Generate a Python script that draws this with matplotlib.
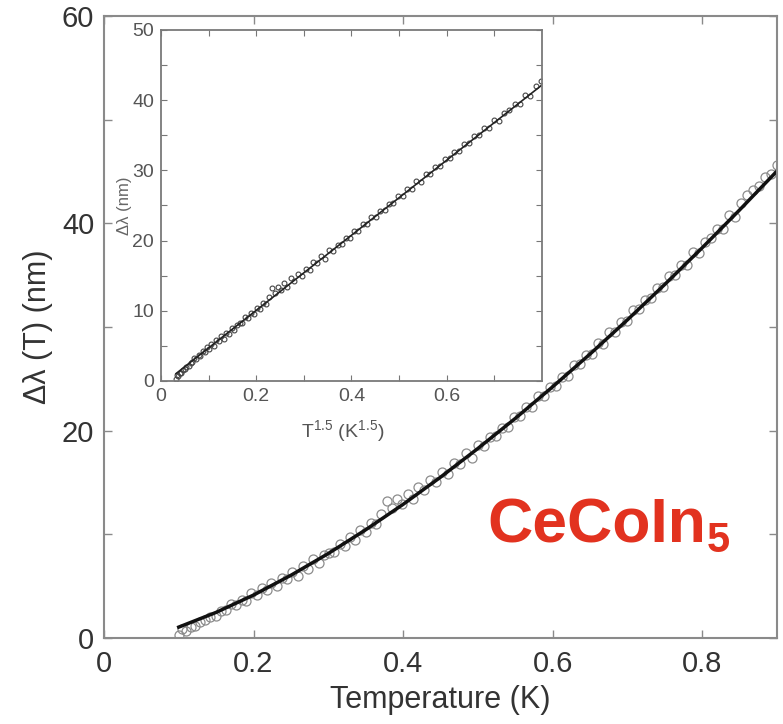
import numpy as np
import matplotlib
matplotlib.use("Agg")
from matplotlib import pyplot as plt
from matplotlib.ticker import MultipleLocator, FixedLocator

plt.rcParams['font.family'] = ['Liberation Sans', 'DejaVu Sans']
plt.rcParams['mathtext.default'] = 'regular'

# data: temperature (K) and delta lambda (nm)
temp = [0.100, 0.104, 0.110, 0.116, 0.122, 0.128, 0.135, 0.142, 0.150, 0.157,
        0.163, 0.170, 0.177, 0.184, 0.190, 0.197, 0.204, 0.211, 0.218, 0.224,
        0.231, 0.238, 0.245, 0.252, 0.259, 0.266, 0.273, 0.280, 0.287, 0.294,
        0.301, 0.308, 0.315, 0.322, 0.329, 0.336, 0.343, 0.350, 0.357, 0.364,
        0.371, 0.378, 0.385, 0.392, 0.399, 0.406, 0.413, 0.420, 0.428, 0.436,
        0.444, 0.452, 0.460, 0.468, 0.476, 0.484, 0.492, 0.500, 0.508, 0.516,
        0.524, 0.532, 0.540, 0.548, 0.556, 0.564, 0.572, 0.580, 0.588, 0.596,
        0.604, 0.612, 0.620, 0.628, 0.636, 0.644, 0.652, 0.660, 0.668, 0.676,
        0.684, 0.692, 0.700, 0.708, 0.716, 0.724, 0.732, 0.740, 0.748, 0.756,
        0.764, 0.772, 0.780, 0.788, 0.796, 0.804, 0.812, 0.820, 0.828, 0.836,
        0.844, 0.852, 0.860, 0.868, 0.876, 0.884, 0.892, 0.900]
dlam = [0.3, 0.9, 0.7, 1.1, 1.2, 1.5, 1.7, 2.0, 2.1, 2.6,
        2.7, 3.3, 3.2, 3.7, 3.6, 4.3, 4.1, 4.8, 4.6, 5.3,
        5.0, 5.8, 5.7, 6.4, 6.0, 6.9, 6.7, 7.6, 7.2, 8.0,
        8.2, 8.3, 9.1, 8.9, 9.7, 9.5, 10.4, 10.2, 11.1, 11.0,
        12.0, 13.2, 12.5, 13.4, 12.9, 13.9, 13.4, 14.6, 14.3, 15.2,
        15.0, 16.0, 15.8, 16.9, 16.8, 17.8, 17.4, 18.6, 18.5, 19.4,
        19.5, 20.3, 20.4, 21.3, 21.4, 22.3, 22.3, 23.3, 23.3, 24.2,
        24.3, 25.2, 25.3, 26.3, 26.4, 27.3, 27.4, 28.5, 28.4, 29.5,
        29.5, 30.5, 30.6, 31.6, 31.7, 32.6, 32.8, 33.8, 33.9, 34.9,
        35.0, 36.0, 36.0, 37.2, 37.1, 38.2, 38.6, 39.5, 39.5, 40.8,
        40.6, 42.0, 42.7, 43.2, 43.6, 44.5, 44.8, 45.6]

# fit line
fit_t = [0.10, 0.15, 0.20, 0.25, 0.30, 0.35, 0.40, 0.45, 0.50,
         0.55, 0.60, 0.65, 0.70, 0.75, 0.80, 0.85, 0.90]
fit_l = [1.05, 2.47, 4.14, 6.05, 8.15, 10.44, 12.89, 15.51, 18.28,
         21.18, 24.23, 27.39, 30.69, 34.11, 37.64, 41.29, 45.04]

x_ticks = [0, 0.2, 0.4, 0.6, 0.8]
y_ticks = [0, 20, 40, 60]
inset_x_ticks = [0, 0.2, 0.4, 0.6]
inset_y_ticks = [0, 10, 20, 30, 40, 50]

spine_c = '#8a8a8a'
fig = plt.figure(figsize=(7.83, 7.24), dpi=100)
ax = fig.add_axes([0.1328, 0.1188, 0.8595, 0.8591])

ax.plot(temp, dlam, 'o', ms=6.5, mfc='none', mec='#8c8c8c', mew=0.9)
ax.plot(fit_t, fit_l, '-', color='#111111', lw=2.5)
ax.set_xlim(0, 0.9)
ax.set_ylim(0, 60)
ax.set_xticks(x_ticks)
ax.set_xticklabels(['0', '0.2', '0.4', '0.6', '0.8'])
ax.set_yticks(y_ticks)
ax.yaxis.set_minor_locator(MultipleLocator(10))
ax.tick_params(which='both', direction='in', top=True, right=True,
               length=6, width=1, color=spine_c)
ax.tick_params(axis='both', labelsize=21, labelcolor='#333333')
ax.tick_params(axis='x', pad=9)
ax.tick_params(axis='y', pad=7)
for s in ax.spines.values():
    s.set_color(spine_c)
    s.set_linewidth(1.5)
ax.set_xlabel('Temperature (K)', fontsize=22, color='#333333')
ax.set_ylabel('Δλ (T) (nm)', fontsize=22, color='#333333')
ax.xaxis.set_label_coords(0.5, -0.076)
ax.yaxis.set_label_coords(-0.076, 0.5)

t = ax.text(0.569, 0.153, 'CeCoIn', transform=ax.transAxes, fontsize=45,
            fontweight='bold', color='#e2321f', ha='left', va='baseline')
ax.annotate('5', xy=(1, 0), xycoords=t, xytext=(1, -4),
            textcoords='offset points', fontsize=30, fontweight='bold',
            color='#e2321f', ha='left', va='bottom')

# inset: same data against T^1.5
ins = fig.add_axes([0.2056, 0.4738, 0.4866, 0.4848])
t15 = np.array(temp) ** 1.5
fit15 = np.array(fit_t) ** 1.5
ins.plot(t15, dlam, 'o', ms=3.5, mfc='none', mec='#444444', mew=0.8)
ins.plot(fit15, fit_l, '-', color='#222222', lw=1.2)
ins.set_xlim(0, 0.8)
ins.set_ylim(0, 50)
ins.set_xticks(inset_x_ticks)
ins.set_xticklabels(['0', '0.2', '0.4', '0.6'])
ins.xaxis.set_minor_locator(FixedLocator([0.1, 0.3, 0.5, 0.7]))
ins.set_yticks(inset_y_ticks)
ins.yaxis.set_minor_locator(MultipleLocator(5))
ins.tick_params(which='both', direction='in', top=True, right=True,
                length=4, width=0.8, color='#777777')
ins.tick_params(axis='both', labelsize=14, labelcolor='#555555', pad=5)
for s in ins.spines.values():
    s.set_color('#7a7a7a')
    s.set_linewidth(1.3)
ins.set_xlabel('T$^{1.5}$ (K$^{1.5}$)', fontsize=14, color='#555555')
ins.set_ylabel('Δλ (nm)', fontsize=12, color='#666666')
ins.xaxis.set_label_coords(0.478, -0.105)
ins.yaxis.set_label_coords(-0.075, 0.5)

fig.savefig('out.png', dpi=100)
